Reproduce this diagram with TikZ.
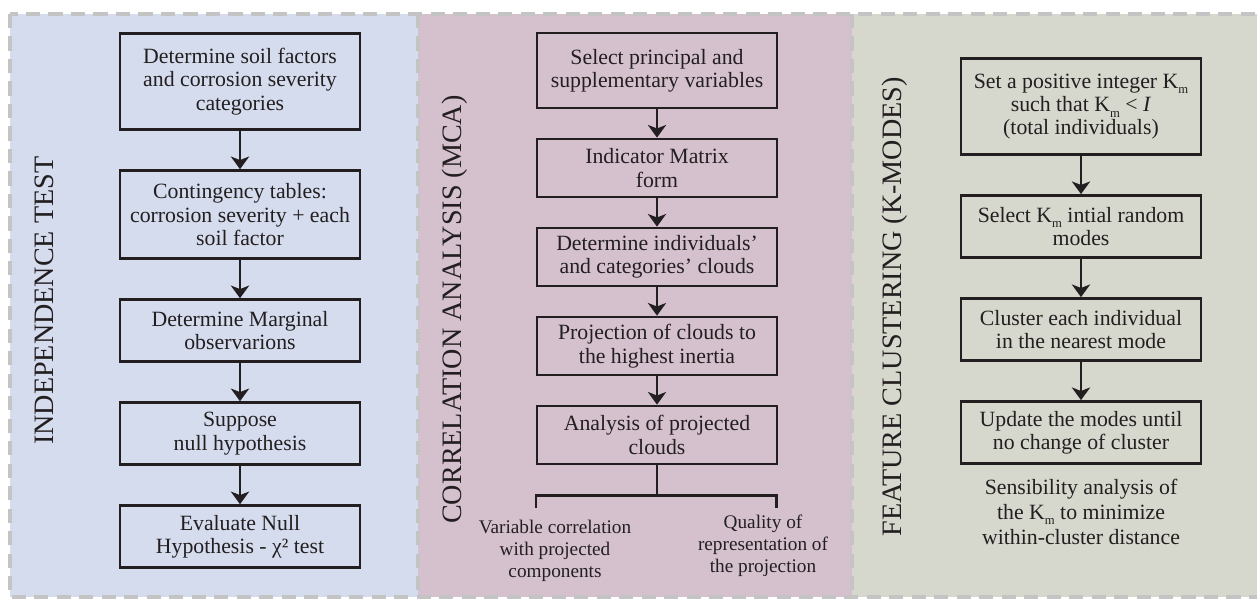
\documentclass[tikz,border=0pt]{standalone}
\usepackage{fontspec}
\setmainfont{Liberation Serif}
\usepackage{tikz}
\usetikzlibrary{positioning,arrows.meta}
\definecolor{testblue}{RGB}{213,220,238}
\definecolor{mcapink}{RGB}{213,193,206}
\definecolor{clustergrey}{RGB}{214,215,205}
\definecolor{bordergrey}{RGB}{196,196,196}
\definecolor{ink}{RGB}{35,31,32}
\newcommand{\Km}{K\raisebox{-4pt}{\fontsize{9}{9}\selectfont m}}
\pgfdeclarelayer{bg}
\pgfsetlayers{bg,main}

\begin{document}
\begin{tikzpicture}[
stage/.style={rectangle, draw=ink, line width=2pt, text=ink, align=center, inner sep=2pt, minimum width=6cm, minimum height=1.55cm, font=\fontsize{15.5}{16.6}\selectfont},
tall/.style={minimum height=2.4cm},
mca_stage/.style={stage, minimum height=1.45cm},
title/.style={rotate=90, text=ink, font=\fontsize{20}{24}\selectfont},
note/.style={align=center, text=ink, font=\fontsize{13.7}{15.4}\selectfont},
flow/.style={draw=ink, line width=2pt, -{Stealth[length=9pt,width=13pt,inset=2.5pt]}},
branch/.style={draw=ink, line width=2pt},
panel_border/.style={draw=bordergrey, line width=2.8pt, dash pattern=on 10pt off 6pt}
]
\useasboundingbox (0,0) rectangle (31.425,-14.975);

%Panels
\begin{pgfonlayer}{bg}
\fill[testblue] (0.25,-0.35) rectangle (10.45,-14.925);
\fill[mcapink] (10.45,-0.35) rectangle (21.3,-14.925);
\fill[clustergrey] (21.3,-0.35) rectangle (31.6,-14.925);
\draw[panel_border] (0.25,-0.35) rectangle (31.6,-14.925);
\draw[panel_border] (10.45,-0.35) -- (10.45,-14.925);
\draw[panel_border] (21.3,-0.35) -- (21.3,-14.925);
\end{pgfonlayer}

%Nodes
\node[title] (test_title) at (1.1,-7.52) {INDEPENDENCE TEST};
\node[stage, tall] (test_1) at (6,-2.04) {Determine soil factors\\and corrosion severity\\categories};
\node[stage, minimum height=2.2cm] (test_2) [below=0.955cm of test_1] {Contingency tables:\\corrosion severity + each\\soil factor};
\node[stage] (test_3) [below=0.955cm of test_2] {Determine Marginal\\observarions};
\node[stage] (test_4) [below=0.955cm of test_3] {Suppose\\null hypothesis};
\node[stage] (test_5) [below=0.955cm of test_4] {Evaluate Null\\Hypothesis - χ² test};

\node[title] (mca_title) at (11.37,-7.74) {CORRELATION ANALYSIS (MCA)};
\node[mca_stage, minimum height=1.875cm] (mca_1) at (16.425,-1.7625) {Select principal and\\supplementary variables};
\node[mca_stage] (mca_2) [below=0.705cm of mca_1] {Indicator Matrix\\form};
\node[mca_stage] (mca_3) [below=0.705cm of mca_2] {Determine individuals’\\and categories’ clouds};
\node[mca_stage] (mca_4) [below=0.705cm of mca_3] {Projection of clouds to\\the highest inertia};
\node[mca_stage] (mca_5) [below=0.705cm of mca_4] {Analysis of projected\\clouds};
\coordinate[below=0.75cm of mca_5] (split);
\coordinate (leg_left) at (13.4,-12.7);
\coordinate (leg_right) at (19.42,-12.7);
\node[note, anchor=north] (var_corr) at (13.875,-12.89) {Variable correlation\\with projected\\components};
\node[note, anchor=north] (quality) at (19.075,-12.76) {Quality of\\representation of\\the projection};

\node[title] (cluster_title) at (22.37,-7.675) {FEATURE CLUSTERING (K-MODES)};
\node[stage, tall] (cluster_1) at (27.025,-2.6625) {Set a positive integer \Km\\such that \Km{} < \textit{I}\\(total individuals)};
\node[stage] (cluster_2) [below=0.955cm of cluster_1] {Select \Km{} intial random\\modes};
\node[stage] (cluster_3) [below=0.955cm of cluster_2] {Cluster each individual\\in the nearest mode};
\node[stage] (cluster_4) [below=0.955cm of cluster_3] {Update the modes until\\no change of cluster};
\node[note, font=\fontsize{15.5}{17.8}\selectfont] (sensibility) [below=0.22cm of cluster_4] {Sensibility analysis of\\the \Km{} to minimize\\within-cluster distance};

%Connections
\draw[flow] (test_1.south) -- (test_2.north);
\draw[flow] (test_2.south) -- (test_3.north);
\draw[flow] (test_3.south) -- (test_4.north);
\draw[flow] (test_4.south) -- (test_5.north);

\draw[flow] (mca_1.south) -- (mca_2.north);
\draw[flow] (mca_2.south) -- (mca_3.north);
\draw[flow] (mca_3.south) -- (mca_4.north);
\draw[flow] (mca_4.south) -- (mca_5.north);
\draw[branch] (mca_5.south) -- (split);
\draw[branch] (leg_left) |- (split) -| (leg_right);

\draw[flow] (cluster_1.south) -- (cluster_2.north);
\draw[flow] (cluster_2.south) -- (cluster_3.north);
\draw[flow] (cluster_3.south) -- (cluster_4.north);
\end{tikzpicture}
\end{document}
